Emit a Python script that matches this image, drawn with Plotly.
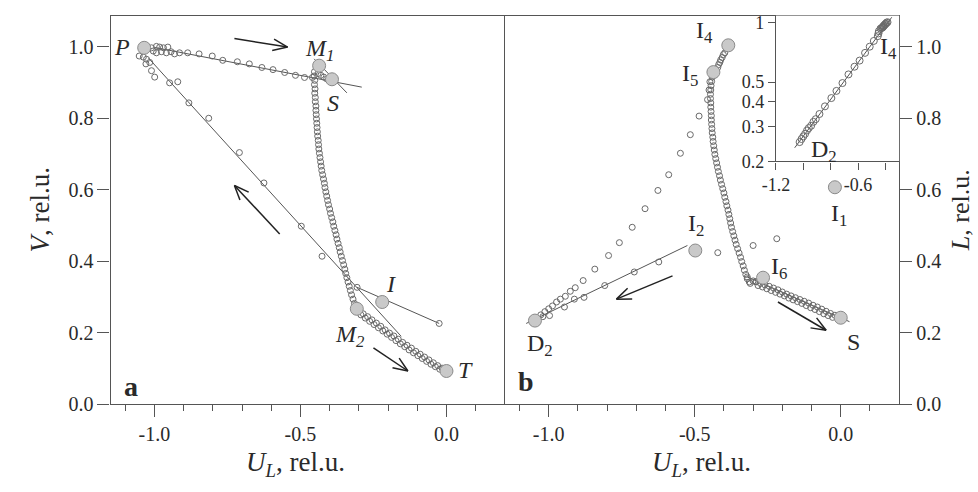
import math
import plotly.graph_objects as go

# ---------------- Panel a data ----------------
a_upper_x = [-1.010, -0.993, -0.982, -0.969, -0.954, -1.004, -0.993, -0.976, -0.959, -0.943, -0.931,
             -0.914, -0.886, -0.847, -0.802, -0.766, -0.716, -0.675, -0.632, -0.594, -0.554, -0.517,
             -0.486, -0.459, -0.440, -0.430, -0.420, -0.410, -0.400]
a_upper_y = [0.997, 1.001, 0.999, 0.997, 0.999, 0.988, 0.983, 0.986, 0.983, 0.986, 0.980,
             0.983, 0.983, 0.980, 0.974, 0.962, 0.958, 0.952, 0.942, 0.936, 0.928, 0.920,
             0.914, 0.914, 0.925, 0.920, 0.915, 0.910, 0.905]
a_return_x = [-1.052, -1.038, -1.027, -1.016, -1.029, -1.010, -0.999, -0.948, -0.920,
              -0.882, -0.814, -0.709, -0.625, -0.497, -0.426, -0.306, -0.025]
a_return_y = [0.974, 0.971, 0.965, 0.956, 0.952, 0.933, 0.915, 0.899, 0.902,
              0.843, 0.800, 0.704, 0.619, 0.498, 0.414, 0.327, 0.226]
a_column_y = [0.930, 0.918, 0.906, 0.894, 0.882, 0.870, 0.858, 0.846, 0.834, 0.822, 0.810, 0.798,
              0.786, 0.774, 0.762, 0.750, 0.738, 0.726, 0.714, 0.702, 0.690, 0.678, 0.666, 0.654,
              0.642, 0.630, 0.618, 0.606, 0.594, 0.582, 0.570, 0.558, 0.546, 0.534, 0.522, 0.510,
              0.498, 0.486, 0.474, 0.462, 0.450, 0.438, 0.426, 0.414, 0.402, 0.390, 0.378, 0.366,
              0.354, 0.342, 0.330, 0.318, 0.306, 0.294, 0.282]
a_column_x = [-0.452, -0.453, -0.451, -0.452, -0.450, -0.451, -0.449, -0.449, -0.447, -0.447, -0.446, -0.445,
              -0.444, -0.443, -0.442, -0.441, -0.439, -0.438, -0.437, -0.435, -0.433, -0.431, -0.429, -0.427,
              -0.424, -0.421, -0.418, -0.416, -0.413, -0.410, -0.407, -0.404, -0.400, -0.397, -0.393, -0.389,
              -0.386, -0.382, -0.378, -0.375, -0.371, -0.367, -0.364, -0.360, -0.356, -0.352, -0.348, -0.345,
              -0.341, -0.337, -0.333, -0.329, -0.325, -0.320, -0.315]
a_lower_x = [-0.300, -0.285, -0.270, -0.255, -0.240, -0.225, -0.210, -0.195, -0.180, -0.165, -0.150,
             -0.135, -0.120, -0.105, -0.090, -0.075, -0.060, -0.045, -0.030, -0.015,
             -0.293, -0.278, -0.263, -0.248, -0.233, -0.218, -0.203, -0.188, -0.173, -0.158, -0.143,
             -0.128, -0.113, -0.098, -0.083, -0.068, -0.053, -0.038, -0.023]
a_lower_y = [0.262, 0.253, 0.245, 0.236, 0.227, 0.218, 0.208, 0.199, 0.191, 0.182, 0.173,
             0.165, 0.157, 0.148, 0.140, 0.132, 0.124, 0.116, 0.108, 0.101,
             0.250, 0.241, 0.232, 0.223, 0.214, 0.205, 0.196, 0.187, 0.178, 0.169, 0.161,
             0.152, 0.144, 0.136, 0.128, 0.120, 0.112, 0.105, 0.098]
# key points P, M1, S, I, M2, T
a_key_names = ["P", "M1", "S", "I", "M2", "T"]
a_key_x = [-1.035, -0.436, -0.392, -0.220, -0.307, 0.000]
a_key_y = [0.997, 0.947, 0.909, 0.286, 0.267, 0.093]
# fitted straight lines (pairs of end points)
a_fit_x = [[-1.000, -0.290], [-0.453, -0.341], [-1.020, -0.155], [-0.306, -0.025]]
a_fit_y = [[0.998, 0.887], [0.966, 0.871], [0.968, 0.190], [0.327, 0.226]]

# ---------------- Panel b data ----------------
b_top_x = [-0.385, -0.397, -0.406, -0.414, -0.421, -0.436, -0.448, -0.451, -0.392, -0.402, -0.411, -0.418, -0.428]
b_top_y = [1.001, 0.983, 0.970, 0.956, 0.942, 0.929, 0.902, 0.879, 0.995, 0.978, 0.963, 0.950, 0.936]
b_column_y = [0.915, 0.903, 0.891, 0.879, 0.867, 0.855, 0.843, 0.831, 0.819, 0.807, 0.795, 0.783,
              0.771, 0.759, 0.747, 0.735, 0.723, 0.711, 0.699, 0.687, 0.675, 0.663, 0.651, 0.639,
              0.627, 0.615, 0.603, 0.591, 0.579, 0.567, 0.555, 0.543, 0.531, 0.519, 0.507, 0.495,
              0.483, 0.471, 0.459, 0.447, 0.435, 0.423, 0.411, 0.399, 0.387, 0.375, 0.363, 0.351,
              0.342, 0.338, 0.345, 0.343, 0.356]
b_column_x = [-0.440, -0.442, -0.444, -0.445, -0.446, -0.446, -0.445, -0.445, -0.444, -0.443, -0.443, -0.442,
              -0.441, -0.440, -0.438, -0.437, -0.435, -0.433, -0.431, -0.428, -0.425, -0.422, -0.419, -0.415,
              -0.412, -0.408, -0.404, -0.400, -0.397, -0.393, -0.390, -0.386, -0.383, -0.380, -0.377, -0.374,
              -0.370, -0.366, -0.362, -0.358, -0.353, -0.348, -0.343, -0.339, -0.334, -0.330, -0.325, -0.320,
              -0.313, -0.310, -0.300, -0.290, -0.320]
b_lower_x = [-0.290, -0.275, -0.260, -0.245, -0.230, -0.215, -0.200, -0.185, -0.170, -0.155, -0.140,
             -0.125, -0.110, -0.095, -0.080, -0.065, -0.050, -0.035, -0.020,
             -0.283, -0.268, -0.253, -0.238, -0.223, -0.208, -0.193, -0.178, -0.163, -0.148, -0.133,
             -0.118, -0.103, -0.088, -0.073, -0.058, -0.043, -0.028]
b_lower_y = [0.342, 0.338, 0.334, 0.330, 0.325, 0.320, 0.314, 0.308, 0.303, 0.298, 0.293,
             0.288, 0.283, 0.277, 0.272, 0.266, 0.260, 0.254, 0.249,
             0.332, 0.328, 0.323, 0.318, 0.313, 0.308, 0.303, 0.297, 0.292, 0.287, 0.282,
             0.276, 0.270, 0.265, 0.259, 0.253, 0.248, 0.243]
# sparse branch I5 -> D2 (also shown in the log inset)
b_sparse_x = [-0.456, -0.485, -0.515, -0.549, -0.589, -0.626, -0.670, -0.714, -0.758, -0.795, -0.842,
              -0.882, -0.909, -0.926, -0.943, -0.960, -0.973, -0.987, -1.000, -1.013, -1.027]
b_sparse_y = [0.852, 0.806, 0.754, 0.702, 0.642, 0.598, 0.547, 0.495, 0.452, 0.416, 0.378,
              0.346, 0.326, 0.316, 0.302, 0.294, 0.286, 0.275, 0.267, 0.259, 0.250]
# branch I2 -> D2 along the fitted line, plus scattered points
b_return_x = [-0.421, -0.623, -0.707, -0.808, -0.879, -0.912, -0.946, -0.997, -1.020, -0.300, -0.219]
b_return_y = [0.424, 0.398, 0.370, 0.332, 0.299, 0.294, 0.272, 0.248, 0.245, 0.444, 0.463]
# key points I4, I5, I2, I1, I6, S, D2
b_key_names = ["I4", "I5", "I2", "I1", "I6", "S", "D2"]
b_key_x = [-0.385, -0.436, -0.498, -0.020, -0.266, 0.000, -1.047]
b_key_y = [1.004, 0.929, 0.430, 0.607, 0.354, 0.242, 0.234]
b_fit_x = [[-1.077, -0.525], [-0.320, 0.030]]
b_fit_y = [[0.226, 0.444], [0.356, 0.231]]

# ---------------- Inset (log L) ----------------
inset_x = b_sparse_x + b_top_x
inset_y = b_sparse_y + b_top_y
inset_fit_x = [-1.063, -0.354]
inset_fit_y = [0.234, 1.060]

# ---------------- Ticks ----------------
main_x_tickvals = [-1.0, -0.5, 0.0]
main_x_ticktext = ["-1.0", "-0.5", "0.0"]
main_x_minor = [-1.1, -0.9, -0.8, -0.7, -0.6, -0.4, -0.3, -0.2, -0.1, 0.1]
main_y_tickvals = [0.0, 0.2, 0.4, 0.6, 0.8, 1.0]
main_y_ticktext = ["0.0", "0.2", "0.4", "0.6", "0.8", "1.0"]
inset_x_tickvals = [-1.2, -1.0, -0.8, -0.6, -0.4]
inset_x_ticktext = ["-1.2", "", "", "-0.6", ""]
inset_y_tickvals = [0.2, 0.3, 0.4, 0.5, 1.0]
inset_y_ticktext = ["0.2", "0.3", "0.4", "0.5", "1"]

FONT = "Liberation Serif, Times New Roman, serif"
TXT = "#2a2a2a"
AX = "#555555"
SMALL = dict(symbol="circle-open", size=6, color="#6a6a6a", line=dict(width=1))
BIG = dict(symbol="circle", size=13, color="#c9c9c9", line=dict(color="#8a8a8a", width=1))

fig = go.Figure()

def pts(x, y, xa, ya, marker):
    fig.add_trace(go.Scatter(x=x, y=y, mode="markers", marker=marker, xaxis=xa, yaxis=ya,
                             hoverinfo="skip", showlegend=False))

def lines(xs, ys, xa, ya):
    for lx, ly in zip(xs, ys):
        fig.add_trace(go.Scatter(x=lx, y=ly, mode="lines", line=dict(color="#555", width=1),
                                 xaxis=xa, yaxis=ya, hoverinfo="skip", showlegend=False))

# panel a
lines(a_fit_x, a_fit_y, "x", "y")
pts(a_upper_x, a_upper_y, "x", "y", SMALL)
pts(a_return_x, a_return_y, "x", "y", SMALL)
pts(a_column_x, a_column_y, "x", "y", SMALL)
pts(a_lower_x, a_lower_y, "x", "y", SMALL)
pts(a_key_x, a_key_y, "x", "y", BIG)
# panel b
lines(b_fit_x, b_fit_y, "x2", "y2")
pts(b_top_x, b_top_y, "x2", "y2", SMALL)
pts(b_column_x, b_column_y, "x2", "y2", SMALL)
pts(b_lower_x, b_lower_y, "x2", "y2", SMALL)
pts(b_sparse_x, b_sparse_y, "x2", "y2", SMALL)
pts(b_return_x, b_return_y, "x2", "y2", SMALL)
pts(b_key_x, b_key_y, "x2", "y2", BIG)
# inset
lines([inset_fit_x], [inset_fit_y], "x3", "y3")
pts(inset_x, inset_y, "x3", "y3", dict(symbol="circle-open", size=7, color="#6a6a6a", line=dict(width=1)))

# geometry
W, H = 978, 492
XA = [98 / W, 498 / W]
XB = [498 / W, 898 / W]
YD = [(H - 413) / H, (H - 13) / H]
XRANGE = [-1.15, 0.2]
YRANGE = [0.0, 1.087]
SX = 400 / (XRANGE[1] - XRANGE[0])
SY = 400 / (YRANGE[1] - YRANGE[0])

axis_common = dict(showline=True, linecolor=AX, linewidth=1.3, ticks="outside", tickcolor=AX,
                   tickwidth=1.3, showgrid=False, zeroline=False,
                   tickfont=dict(family=FONT, size=20, color=TXT))

def xaxis(domain, anchor):
    return dict(axis_common, domain=domain, range=XRANGE, anchor=anchor, mirror=True, ticklen=12,
                tickvals=main_x_tickvals, ticktext=main_x_ticktext,
                minor=dict(tickvals=main_x_minor, ticklen=6, ticks="outside", tickcolor=AX, tickwidth=1.3))

fig.update_layout(
    width=W, height=H, margin=dict(l=0, r=0, t=0, b=0),
    paper_bgcolor="white", plot_bgcolor="white",
    xaxis=xaxis(XA, "y"),
    yaxis=dict(axis_common, domain=YD, range=YRANGE, anchor="x", ticklen=12,
               tickvals=main_y_tickvals, ticktext=main_y_ticktext),
    xaxis2=xaxis(XB, "y2"),
    yaxis2=dict(axis_common, domain=YD, range=YRANGE, anchor="x2", side="right", mirror=True, ticklen=12,
                tickvals=main_y_tickvals, ticktext=main_y_ticktext),
    xaxis3=dict(axis_common, domain=[773 / W, 898 / W], range=[-1.2, -0.3], anchor="y3", ticklen=7,
                tickvals=inset_x_tickvals, ticktext=inset_x_ticktext,
                tickfont=dict(family=FONT, size=18, color=TXT)),
    yaxis3=dict(axis_common, domain=[(H - 163) / H, (H - 13) / H], type="log",
                range=[math.log10(0.2), math.log10(1.08)], anchor="x3", ticklen=7,
                tickvals=inset_y_tickvals, ticktext=inset_y_ticktext,
                tickfont=dict(family=FONT, size=18, color=TXT)),
)

ann = []
def label(text, x, y, xr, yr, size=22):
    ann.append(dict(text=text, x=x, y=y, xref=xr, yref=yr, showarrow=False,
                    font=dict(family=FONT, size=size, color=TXT), xanchor="center", yanchor="middle"))

label("<i>P</i>", -1.11, 1.0, "x", "y", 24)
label("<i>M</i><sub><i>1</i></sub>", -0.435, 0.99, "x", "y", 24)
label("<i>S</i>", -0.389, 0.844, "x", "y", 24)
label("<i>I</i>", -0.19, 0.335, "x", "y", 24)
label("<i>M</i><sub><i>2</i></sub>", -0.33, 0.19, "x", "y", 24)
label("<i>T</i>", 0.065, 0.095, "x", "y", 24)
label("<b>a</b>", -1.081, 0.05, "x", "y", 28)
label("I<sub>4</sub>", -0.465, 1.04, "x2", "y2", 24)
label("I<sub>5</sub>", -0.515, 0.92, "x2", "y2", 24)
label("I<sub>2</sub>", -0.495, 0.50, "x2", "y2", 24)
label("I<sub>1</sub>", -0.005, 0.53, "x2", "y2", 24)
label("I<sub>6</sub>", -0.21, 0.38, "x2", "y2", 24)
label("S", 0.044, 0.174, "x2", "y2", 24)
label("D<sub>2</sub>", -1.03, 0.165, "x2", "y2", 24)
label("<b>b</b>", -1.077, 0.063, "x2", "y2", 28)
label("I<sub>4</sub>", -0.38, math.log10(0.74), "x3", "y3", 24)
label("D<sub>2</sub>", -0.85, math.log10(0.225), "x3", "y3", 24)

# axis titles
def title(text, x, y, angle=0, size=27):
    ann.append(dict(text=text, x=x, y=y, xref="paper", yref="paper", showarrow=False, textangle=angle,
                    font=dict(family=FONT, size=size, color=TXT), xanchor="center", yanchor="middle"))

title("<i>U<sub>L</sub></i>, rel.u.", 286 / W, (H - 475) / H)
title("<i>U<sub>L</sub></i>, rel.u.", 697 / W, (H - 475) / H)
title("<i>V</i>, rel.u.", 26 / W, (H - 213) / H, -90)
title("<i>L</i>, rel.u.", 961 / W, (H - 213) / H, -90, 26)
fig.update_layout(annotations=ann)

# arrows: shaft + open head (barbs), geometry in pixel space
arrows = [("x", "y", (-0.726, 1.023), (-0.544, 0.999)),
          ("x", "y", (-0.571, 0.476), (-0.726, 0.612)),
          ("x", "y", (-0.250, 0.158), (-0.132, 0.093)),
          ("x2", "y2", (-0.576, 0.359), (-0.768, 0.294)),
          ("x2", "y2", (-0.215, 0.286), (-0.050, 0.207))]
shapes = []
for xr, yr, (x0, y0), (x1, y1) in arrows:
    ln = dict(color="#222", width=1.5)
    shapes.append(dict(type="line", xref=xr, yref=yr, x0=x0, y0=y0, x1=x1, y1=y1, line=ln))
    dx, dy = (x1 - x0) * SX, (y1 - y0) * SY
    ang = math.atan2(dy, dx)
    for s in (1, -1):
        a = ang + math.pi - s * math.radians(22)
        bx = x1 + 16 * math.cos(a) / SX
        by = y1 + 16 * math.sin(a) / SY
        shapes.append(dict(type="line", xref=xr, yref=yr, x0=x1, y0=y1, x1=bx, y1=by, line=ln))
fig.update_layout(shapes=shapes)

fig.write_html("out.html")
